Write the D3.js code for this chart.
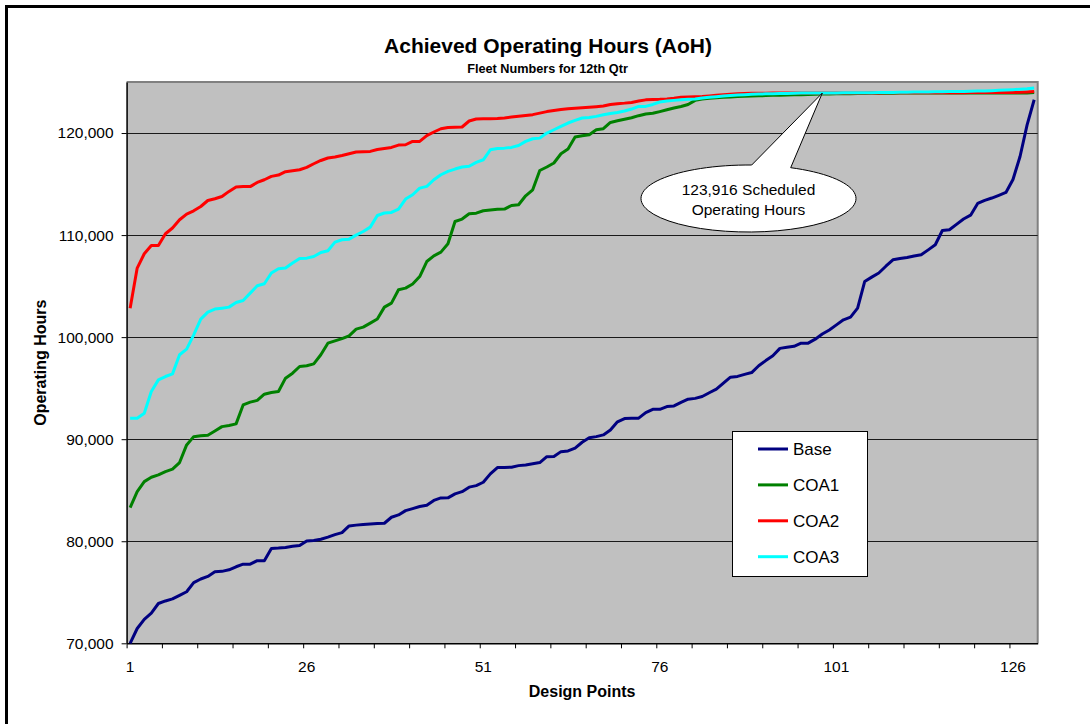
<!DOCTYPE html>
<html>
<head>
<meta charset="utf-8">
<script src="https://cdn.jsdelivr.net/npm/d3@7"></script>
<style>
  body { margin: 0; background: #fff; }
  svg { display: block; font-family: "Liberation Sans", Arial, sans-serif; }
</style>
</head>
<body>
<svg id="chart" width="1090" height="724"></svg>
<script>
// Design points 1..129
const designPoints = d3.range(1, 130);

const base = [70000, 71450, 72350, 72950, 73900, 74150, 74350, 74700, 75050, 75950,
  76300, 76550, 77000, 77050, 77200, 77500, 77750, 77750, 78100, 78100,
  79300, 79330, 79380, 79500, 79575, 80030, 80080, 80200, 80400, 80650,
  80850, 81500, 81580, 81650, 81700, 81730, 81765, 82350, 82580, 83000,
  83200, 83400, 83530, 84000, 84245, 84250, 84640, 84860, 85300, 85450,
  85780, 86600, 87220, 87230, 87255, 87410, 87480, 87600, 87710, 88290,
  88300, 88780, 88850, 89120, 89700, 90150, 90250, 90420, 90900, 91700,
  92020, 92040, 92060, 92600, 92930, 92930, 93200, 93260, 93600, 93920,
  94000, 94180, 94550, 94900, 95500, 96080, 96150, 96350, 96530, 97200,
  97700, 98170, 98900, 99000, 99100, 99410, 99410, 99800, 100300, 100700,
  101200, 101700, 101960, 102850, 105450, 105880, 106280, 106950, 107580, 107700,
  107810, 107950, 108070, 108550, 109050, 110450, 110520, 111050, 111570, 111950,
  113100, 113400, 113630, 113900, 114180, 115450, 117700, 120800, 123260];

const coa1 = [83290, 84860, 85840, 86270, 86500, 86820, 87060, 87710, 89440, 90250,
  90330, 90390, 90800, 91230, 91350, 91500, 93360, 93630, 93800, 94410,
  94575, 94670, 95980, 96470, 97120, 97190, 97380, 98270, 99410, 99640,
  99860, 100130, 100780, 100980, 101370, 101770, 102940, 103330, 104640, 104800,
  105200, 105940, 107410, 107970, 108330, 109150, 111330, 111570, 112090, 112150,
  112380, 112450, 112520, 112550, 112900, 112970, 113850, 114440, 116330, 116670,
  117060, 117970, 118430, 119610, 119735, 119830, 120320, 120420, 121040, 121200,
  121350, 121500, 121700, 121860, 121930, 122100, 122280, 122450, 122600, 122800,
  123200, 123330, 123400, 123450, 123500, 123540, 123580, 123600, 123630, 123650,
  123670, 123690, 123700, 123720, 123740, 123760, 123780, 123800, 123820, 123830,
  123840, 123850, 123860, 123870, 123880, 123890, 123900, 123900, 123905, 123910,
  123910, 123910, 123910, 123915, 123915, 123916, 123916, 123916, 123916, 123916,
  123916, 123916, 123916, 123916, 123916, 123916, 123920, 123930, 123960];

const coa2 = [102840, 106770, 108170, 108980, 108980, 110130, 110690, 111500, 112060, 112380,
  112800, 113390, 113560, 113780, 114280, 114710, 114750, 114750, 115160, 115420,
  115750, 115880, 116210, 116300, 116400, 116630, 116990, 117310, 117550, 117650,
  117800, 117970, 118140, 118170, 118200, 118390, 118490, 118590, 118820, 118850,
  119180, 119180, 119740, 120100, 120420, 120550, 120570, 120590, 121180, 121370,
  121390, 121410, 121430, 121480, 121560, 121640, 121720, 121800, 121950, 122100,
  122200, 122300, 122370, 122420, 122470, 122520, 122580, 122650, 122800, 122880,
  122930, 123000, 123130, 123250, 123280, 123300, 123340, 123400, 123500, 123530,
  123560, 123590, 123640, 123700, 123750, 123800, 123840, 123870, 123890, 123900,
  123905, 123910, 123910, 123915, 123915, 123916, 123916, 123916, 123916, 123920,
  123920, 123920, 123925, 123925, 123930, 123930, 123930, 123935, 123935, 123940,
  123940, 123940, 123945, 123945, 123950, 123950, 123950, 123955, 123955, 123960,
  123960, 123960, 123965, 123965, 123970, 123975, 123990, 124030, 124080];

const coa3 = [92060, 92060, 92550, 94670, 95810, 96140, 96400, 98270, 98820, 100230,
  101770, 102450, 102750, 102840, 102940, 103390, 103590, 104310, 105030, 105230,
  106280, 106700, 106770, 107260, 107710, 107740, 107900, 108290, 108460, 109310,
  109540, 109600, 110000, 110350, 110780, 111920, 112160, 112220, 112550, 113530,
  113950, 114600, 114770, 115420, 115910, 116240, 116470, 116670, 116740, 117120,
  117380, 118360, 118490, 118520, 118590, 118780, 119180, 119440, 119500, 120000,
  120320, 120650, 120980, 121240, 121470, 121520, 121630, 121790, 121920, 122020,
  122160, 122350, 122610, 122610, 122800, 123040, 123140, 123200, 123270, 123300,
  123330, 123430, 123500, 123560, 123620, 123680, 123720, 123760, 123790, 123820,
  123840, 123860, 123870, 123880, 123900, 123910, 123915, 123920, 123920, 123925,
  123930, 123935, 123940, 123945, 123950, 123955, 123960, 123970, 123980, 123990,
  124000, 124010, 124020, 124030, 124040, 124050, 124060, 124070, 124080, 124090,
  124110, 124130, 124150, 124180, 124210, 124250, 124290, 124340, 124410];

const seriesNames = ["Base", "COA1", "COA2", "COA3"];
const seriesValues = [base, coa1, coa2, coa3];
const seriesColors = ["#000080", "#008000", "#ff0000", "#00ffff"];

const yTicks = [70000, 80000, 90000, 100000, 110000, 120000];
const xLabels = [1, 26, 51, 76, 101, 126];
const scheduledHours = 123916;
const scheduledPoint = 99;

const svg = d3.select("#chart");
const plot = { left: 126.6, right: 1037.7, top: 82, bottom: 643.3 };

// outer frame (only top and left visible)
svg.append("rect")
  .attr("x", 6.5).attr("y", 6.5)
  .attr("width", 1200).attr("height", 800)
  .attr("fill", "none").attr("stroke", "#000").attr("stroke-width", 3);

// scales
const x = d3.scaleBand()
  .domain(designPoints)
  .range([plot.left, plot.right])
  .paddingInner(0).paddingOuter(0);
const xEdge = d3.scaleLinear()
  .domain([0, designPoints.length])
  .range([plot.left, plot.right]);
const y = d3.scaleLinear()
  .domain([70000, 125000])
  .range([plot.bottom, plot.top]);

// plot background
svg.append("rect")
  .attr("x", plot.left).attr("y", plot.top)
  .attr("width", plot.right - plot.left).attr("height", plot.bottom - plot.top)
  .attr("fill", "#c0c0c0");
svg.append("path")
  .attr("d", `M${plot.left},${plot.top} H${plot.right} V${plot.bottom}`)
  .attr("fill", "none").attr("stroke", "#808080").attr("stroke-width", 2);

// gridlines
svg.append("g")
  .selectAll("line")
  .data(yTicks.slice(1))
  .join("line")
  .attr("x1", plot.left).attr("x2", plot.right)
  .attr("y1", (d) => Math.round(y(d)) + 0.5)
  .attr("y2", (d) => Math.round(y(d)) + 0.5)
  .attr("stroke", "#1a1a1a").attr("stroke-width", 1);

// y axis
const yAxis = svg.append("g")
  .attr("transform", `translate(${plot.left},0)`)
  .call(d3.axisLeft(y).tickValues(yTicks).tickSize(5).tickPadding(8)
    .tickFormat(d3.format(",")).tickSizeOuter(0));
yAxis.select(".domain").attr("stroke", "#000").attr("stroke-width", 1.5);
yAxis.selectAll("text").attr("font-size", 15.5).attr("font-family", "Liberation Sans, Arial").attr("fill", "#000");

// x axis: tick marks at category boundaries
const xTickAxis = svg.append("g")
  .attr("transform", `translate(0,${plot.bottom})`)
  .call(d3.axisBottom(xEdge).tickValues(d3.range(0, 126, 5)).tickSize(5)
    .tickFormat("").tickSizeOuter(0));
xTickAxis.select(".domain").attr("stroke", "#000").attr("stroke-width", 1.5);

// x labels at category centres
const xLabelAxis = svg.append("g")
  .attr("transform", `translate(0,${plot.bottom})`)
  .call(d3.axisBottom(x).tickValues(xLabels).tickSize(0).tickPadding(17.5));
xLabelAxis.select(".domain").remove();
xLabelAxis.selectAll("text").attr("font-size", 15.5).attr("font-family", "Liberation Sans, Arial").attr("fill", "#000");

// series lines
const line = d3.line()
  .x((d, i) => x(designPoints[i]) + x.bandwidth() / 2)
  .y((d) => y(d));

svg.append("g")
  .selectAll("path")
  .data(seriesValues)
  .join("path")
  .attr("d", (d) => line(d))
  .attr("fill", "none")
  .attr("stroke", (d, i) => seriesColors[i])
  .attr("stroke-width", 3)
  .attr("stroke-linejoin", "round");

// callout
const tipX = x(scheduledPoint) + x.bandwidth() / 2;
const tipY = y(scheduledHours);
const ell = { cx: 748.5, cy: 198.5, rx: 107.5, ry: 33.5 };
function onEllipse(px) {
  const dx = px - ell.cx;
  return ell.cy - ell.ry * Math.sqrt(1 - (dx / ell.rx) ** 2);
}
const p1 = [751.7, onEllipse(751.7)];
const p2 = [790.7, onEllipse(790.7)];
svg.append("path")
  .attr("d", `M${p1[0]},${p1[1]} L${tipX},${tipY} L${p2[0]},${p2[1]} ` +
    `A${ell.rx},${ell.ry} 0 1 1 ${p1[0]},${p1[1]} Z`)
  .attr("fill", "#fff").attr("stroke", "#000").attr("stroke-width", 1);
svg.append("text")
  .attr("x", ell.cx).attr("y", 195)
  .attr("text-anchor", "middle").attr("font-size", 15.5)
  .text(d3.format(",")(scheduledHours) + " Scheduled");
svg.append("text")
  .attr("x", ell.cx).attr("y", 215)
  .attr("text-anchor", "middle").attr("font-size", 15.5)
  .text("Operating Hours");

// legend
const legend = svg.append("g").attr("transform", "translate(732,431)");
legend.append("rect")
  .attr("x", 0.5).attr("y", 0.5).attr("width", 135).attr("height", 145)
  .attr("fill", "#fff").attr("stroke", "#000").attr("stroke-width", 1);
const item = legend.selectAll("g.item")
  .data(seriesNames)
  .join("g")
  .attr("class", "item")
  .attr("transform", (d, i) => `translate(0,${18 + i * 35.9})`);
item.append("line")
  .attr("x1", 26).attr("x2", 56)
  .attr("stroke", (d, i) => seriesColors[i]).attr("stroke-width", 3);
item.append("text")
  .attr("x", 61).attr("y", 6)
  .attr("font-size", 17)
  .text((d) => d);

// titles
svg.append("text")
  .attr("x", 548).attr("y", 52.5)
  .attr("text-anchor", "middle").attr("font-size", 21).attr("font-weight", "bold")
  .text("Achieved Operating Hours (AoH)");
svg.append("text")
  .attr("x", 547.5).attr("y", 72.5)
  .attr("text-anchor", "middle").attr("font-size", 12.7).attr("font-weight", "bold")
  .text("Fleet Numbers for 12th Qtr");
svg.append("text")
  .attr("x", (plot.left + plot.right) / 2).attr("y", 697)
  .attr("text-anchor", "middle").attr("font-size", 16).attr("font-weight", "bold")
  .text("Design Points");
svg.append("text")
  .attr("transform", `translate(46,${(plot.top + plot.bottom) / 2}) rotate(-90)`)
  .attr("text-anchor", "middle").attr("font-size", 16).attr("font-weight", "bold")
  .text("Operating Hours");
</script>
</body>
</html>
